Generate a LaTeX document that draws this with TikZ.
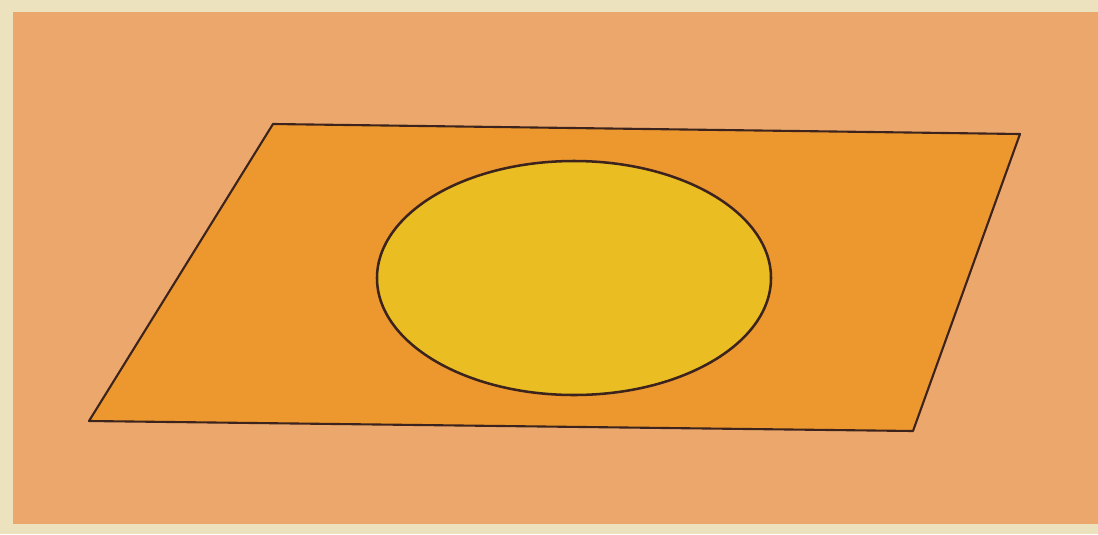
\documentclass[tikz,border=0pt]{standalone}
\usepackage{tikz}
\usepackage[dvipsnames]{xcolor}

\definecolor{paper}{RGB}{236,226,190}
\definecolor{peach}{RGB}{236,168,108}
\definecolor{plane}{RGB}{236,152,46}
\definecolor{disc}{RGB}{234,190,34}
\definecolor{rim}{RGB}{60,35,30}

\tikzset{
  planeface/.style={fill=plane, draw=rim, line width=1.5pt, line join=round},
  discface/.style={fill=disc, draw=rim, line width=1.8pt}
}

\begin{document}
\begin{tikzpicture}[x=0.025cm, y=-0.025cm]
% page and background
\fill[paper] (0,0) rectangle (1098,534);
\useasboundingbox (0,0) rectangle (1098,534);
\fill[peach] (13,12) rectangle (1098,524);

% the plane
\draw[planeface] (273,124) -- (1020,134) -- (913,431) -- (89,421) -- cycle;

% the disc lying in it
\draw[discface] (574,278) ellipse (197 and 117);
\end{tikzpicture}
\end{document}
